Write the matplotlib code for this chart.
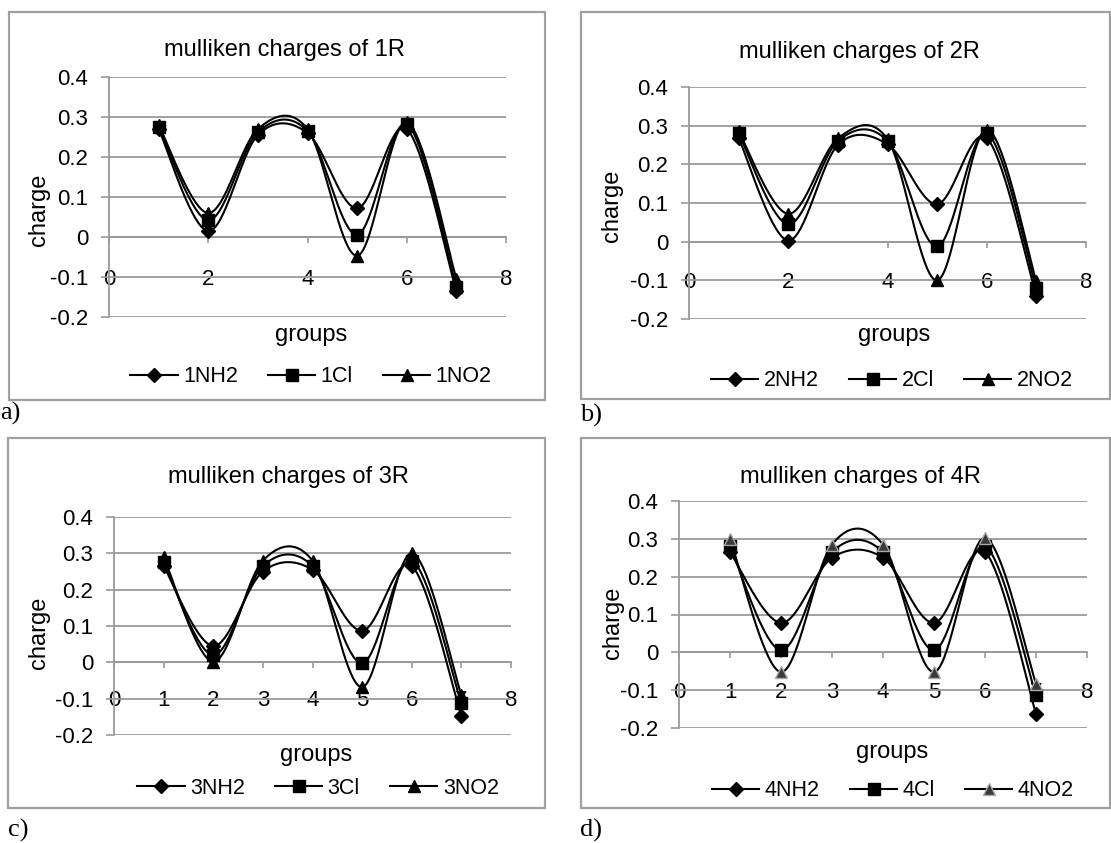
import numpy as np
import matplotlib
matplotlib.use("Agg")
import matplotlib.pyplot as plt
from matplotlib.lines import Line2D
from matplotlib.patches import Rectangle

plt.rcParams['font.family'] = ['Liberation Sans', 'DejaVu Sans']
plt.rcParams['axes.unicode_minus'] = False

# ---------------- data ----------------
groups = [1, 2, 3, 4, 5, 6, 7]

nh2_1 = [0.270, 0.015, 0.255, 0.260, 0.072, 0.270, -0.136]
cl_1 = [0.275, 0.042, 0.262, 0.265, 0.006, 0.282, -0.125]
no2_1 = [0.280, 0.060, 0.270, 0.270, -0.047, 0.287, -0.104]

nh2_2 = [0.268, 0.003, 0.250, 0.252, 0.097, 0.268, -0.140]
cl_2 = [0.280, 0.045, 0.260, 0.260, -0.012, 0.280, -0.120]
no2_2 = [0.285, 0.072, 0.267, 0.265, -0.100, 0.290, -0.103]

nh2_3 = [0.265, 0.045, 0.250, 0.255, 0.087, 0.265, -0.148]
cl_3 = [0.275, 0.020, 0.265, 0.265, -0.002, 0.280, -0.113]
no2_3 = [0.290, 0.002, 0.280, 0.280, -0.068, 0.300, -0.090]

nh2_4 = [0.265, 0.078, 0.250, 0.250, 0.078, 0.265, -0.162]
cl_4 = [0.280, 0.006, 0.265, 0.265, 0.006, 0.280, -0.113]
no2_4 = [0.300, -0.052, 0.285, 0.285, -0.052, 0.302, -0.083]

titles = ["mulliken charges of 1R", "mulliken charges of 2R",
          "mulliken charges of 3R", "mulliken charges of 4R"]
series_names = [["1NH2", "1Cl", "1NO2"], ["2NH2", "2Cl", "2NO2"],
                ["3NH2", "3Cl", "3NO2"], ["4NH2", "4Cl", "4NO2"]]
series_values = [[nh2_1, cl_1, no2_1], [nh2_2, cl_2, no2_2],
                 [nh2_3, cl_3, no2_3], [nh2_4, cl_4, no2_4]]
xticks_sets = [[0, 2, 4, 6, 8], [0, 2, 4, 6, 8],
               [0, 1, 2, 3, 4, 5, 6, 7, 8], [0, 1, 2, 3, 4, 5, 6, 7, 8]]
yticks = [-0.2, -0.1, 0, 0.1, 0.2, 0.3, 0.4]
panel_tags = ["a)", "b)", "c)", "d)"]

# ---------------- layout (pixels) ----------------
W, H = 1111, 843
DPI = 100
fig = plt.figure(figsize=(W / DPI, H / DPI), dpi=DPI)

# plot area: x0, x1, ytop(0.4), ybot(-0.2)
plot_rects = [(109, 506, 77, 317), (689, 1086, 87, 319),
              (114, 511, 517, 735), (679, 1087, 501, 728)]
boxes = [(9, 12, 545, 400), (581, 12, 1110, 399),
         (8, 438, 545, 808), (581, 438, 1110, 808)]
title_pos = [(284, 50), (859, 52), (288, 477), (860, 477)]
ylabel_pos = [(39, 210), (612, 206), (39, 633), (613, 623)]
xlabel_pos = [(311, 335), (894, 335), (316, 755), (892, 752)]
legend_pos = [(311, 377), (892, 381), (318, 788), (893, 791)]
tag_pos = [(0, 413), (580, 415), (8, 830), (580, 830)]

GRAY = '#9a9a9a'
TICK_FS = 16
px_per_pt = DPI / 72.0


def catmull_rom(x, y, n=40):
    x = np.asarray(x, float)
    y = np.asarray(y, float)
    px = np.concatenate([[x[0]], x, [x[-1]]])
    py = np.concatenate([[y[0]], y, [y[-1]]])
    xs, ys = [], []
    t = np.linspace(0, 1, n)
    for i in range(1, len(px) - 2):
        p0, p1, p2, p3 = (np.array([px[j], py[j]]) for j in (i - 1, i, i + 1, i + 2))
        m1 = (p2 - p0) / 2.0
        m2 = (p3 - p1) / 2.0
        h00 = 2 * t**3 - 3 * t**2 + 1
        h10 = t**3 - 2 * t**2 + t
        h01 = -2 * t**3 + 3 * t**2
        h11 = t**3 - t**2
        pts = (np.outer(h00, p1) + np.outer(h10, m1) + np.outer(h01, p2) + np.outer(h11, m2))
        xs.append(pts[:, 0])
        ys.append(pts[:, 1])
    return np.concatenate(xs), np.concatenate(ys)


markers = ['D', 's', '^']
msizes = [7, 8, 9]

for k in range(4):
    x0, x1, yt, yb = plot_rects[k]
    ax = fig.add_axes([x0 / W, 1 - yb / H, (x1 - x0) / W, (yb - yt) / H])
    ax.set_xlim(0, 8)
    ax.set_ylim(-0.2, 0.4)
    ax.set_facecolor('none')

    for s in ['top', 'right']:
        ax.spines[s].set_visible(False)
    ax.spines['left'].set_color(GRAY)
    ax.spines['left'].set_linewidth(1.3)
    ax.spines['bottom'].set_position(('data', 0))
    ax.spines['bottom'].set_color(GRAY)
    ax.spines['bottom'].set_linewidth(1.3)

    ax.set_yticks(yticks)
    ax.set_yticklabels(['%g' % v for v in yticks])
    ax.yaxis.grid(True, color=GRAY, linewidth=1.3)
    ax.set_axisbelow(True)

    ax.set_xticks(xticks_sets[k])
    ax.set_xticklabels([str(v) for v in xticks_sets[k]])

    ppu = (yb - yt) / 0.6
    dist_px = 0.1 * ppu
    font_px = TICK_FS * px_per_pt
    ticklen_pt = 4.0
    pad_pt = (dist_px - 0.372 * font_px) / px_per_pt - ticklen_pt
    ax.tick_params(axis='x', direction='out', length=ticklen_pt, width=1.2,
                   color=GRAY, labelsize=TICK_FS, pad=pad_pt)
    ax.tick_params(axis='y', direction='out', length=6, width=1.2,
                   color=GRAY, labelsize=TICK_FS, pad=9)

    handles = []
    for j, vals in enumerate(series_values[k]):
        sx, sy = catmull_rom(groups, vals)
        ax.plot(sx, sy, color='black', lw=1.5, zorder=3, clip_on=False)
        if k == 3 and j == 2:
            mfc, mec = '#3a3a3a', '#a8a8a8'
        else:
            mfc, mec = 'black', 'black'
        ax.plot(groups, vals, linestyle='none', marker=markers[j], ms=msizes[j],
                mfc=mfc, mec=mec, mew=1.0, zorder=4, clip_on=False)
        handles.append(Line2D([], [], color='black', lw=1.5, marker=markers[j],
                              ms=msizes[j], mfc=mfc, mec=mec, mew=1.0,
                              label=series_names[k][j]))

    # labels
    ax.set_xlabel('groups', fontsize=17)
    ax.xaxis.set_label_coords((xlabel_pos[k][0] - x0) / (x1 - x0),
                              (yb - xlabel_pos[k][1]) / (yb - yt))
    ax.xaxis.label.set_va('center')
    ax.set_ylabel('charge', fontsize=17)
    ax.yaxis.set_label_coords((ylabel_pos[k][0] - x0) / (x1 - x0),
                              (yb - ylabel_pos[k][1]) / (yb - yt))
    ax.yaxis.label.set_va('center')

    fig.text(title_pos[k][0] / W, 1 - title_pos[k][1] / H, titles[k],
             ha='center', va='center', fontsize=17)

    fig.legend(handles=handles, loc='center', ncol=3, frameon=False,
               bbox_to_anchor=(legend_pos[k][0] / W, 1 - legend_pos[k][1] / H),
               fontsize=15.5, handlelength=2.2, handletextpad=0.25,
               columnspacing=1.4, borderaxespad=0, borderpad=0)

    bx0, by0, bx1, by1 = boxes[k]
    fig.patches.append(Rectangle((bx0 / W, 1 - by1 / H), (bx1 - bx0) / W, (by1 - by0) / H,
                                 transform=fig.transFigure, fill=False,
                                 edgecolor='#a0a0a0', linewidth=1.6))

    fig.text(tag_pos[k][0] / W, 1 - tag_pos[k][1] / H, panel_tags[k],
             ha='left', va='center', fontsize=19, family='Liberation Serif')

fig.savefig('out.png', dpi=DPI)
